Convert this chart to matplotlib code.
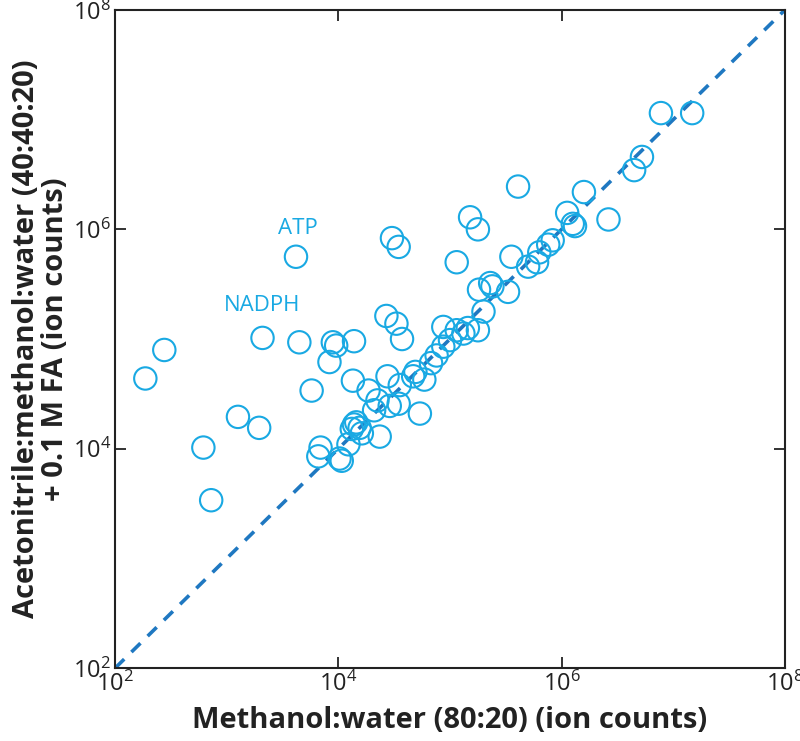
import numpy as np
import matplotlib
matplotlib.use("Agg")
import matplotlib.pyplot as plt

plt.rcParams['font.family'] = ['Open Sans', 'DejaVu Sans']

# log10 de los conteos
log_metanol = [2.27, 2.44, 2.79, 2.86, 3.10, 3.29, 3.32, 3.62, 3.65, 3.76,
               3.92, 3.95, 3.98, 4.14, 4.13, 4.43, 4.52, 4.57, 4.48, 4.54,
               5.06, 5.18, 5.25, 5.61, 5.55, 3.84, 3.82, 4.01, 4.03, 4.09,
               4.14, 4.16, 4.19, 4.12, 4.21, 4.37, 4.27, 4.35, 4.32, 4.44,
               4.46, 4.54, 4.55, 4.67, 4.69, 4.77, 4.73, 4.83, 4.88, 4.94,
               4.94, 5.00, 5.06, 5.12, 5.16, 5.25, 5.30, 5.26, 5.36, 5.38,
               5.52, 5.70, 5.78, 5.80, 5.88, 5.92, 6.05, 6.10, 6.12, 6.42,
               6.20, 6.65, 6.72, 6.89, 7.17]
log_acn = [4.64, 4.90, 4.01, 3.53, 4.29, 4.19, 5.01, 5.75, 4.97, 4.53,
           4.79, 4.97, 4.94, 4.98, 4.62, 5.21, 5.14, 5.00, 5.92, 5.84,
           5.70, 6.11, 6.00, 6.39, 5.75, 4.01, 3.93, 3.91, 3.89, 4.04,
           4.22, 4.24, 4.19, 4.18, 4.14, 4.11, 4.53, 4.44, 4.35, 4.66,
           4.39, 4.41, 4.58, 4.66, 4.70, 4.63, 4.32, 4.78, 4.85, 5.11,
           4.93, 4.99, 5.08, 5.05, 5.10, 5.08, 5.25, 5.45, 5.51, 5.48,
           5.43, 5.66, 5.70, 5.79, 5.86, 5.90, 6.15, 6.05, 6.03, 6.09,
           6.34, 6.54, 6.66, 7.06, 7.06]

etiquetas = ["ATP", "NADPH"]
pos_etiquetas = [(10**3.64, 10**6.01), (10**3.32, 10**5.31)]

x = 10 ** np.array(log_metanol)
y = 10 ** np.array(log_acn)

fuente_ejes = ['Liberation Sans Narrow', 'Open Sans', 'DejaVu Sans']

fig = plt.figure(figsize=(8, 7.41), dpi=100)
ax = fig.add_axes([0.144, 0.0985, 0.837, 0.888])

ax.plot([1e2, 1e8], [1e2, 1e8], ls=(0, (3.5, 2.8)), color='#1f78c1', lw=2.6, zorder=1)
ax.scatter(x, y, s=260, facecolors='none', edgecolors='#19a9e3', linewidths=1.5, zorder=2)

for t, (tx, ty) in zip(etiquetas, pos_etiquetas):
    ax.text(tx, ty, t, color='#19a9e3', fontsize=16, ha='center', va='center')

ax.set_xscale('log')
ax.set_yscale('log')
ax.set_xlim(1e2, 1e8)
ax.set_ylim(1e2, 1e8)
ax.set_xticks([1e2, 1e4, 1e6, 1e8])
ax.set_yticks([1e2, 1e4, 1e6, 1e8])
ax.minorticks_off()
ax.tick_params(direction='in', length=8, width=1.3, top=True, right=True,
               labelsize=17, pad=3, colors='#222222')
for s in ax.spines.values():
    s.set_linewidth(1.5)
    s.set_color('#222222')

ax.set_xlabel("Methanol:water (80:20) (ion counts)", fontsize=21, fontweight='bold',
              color='#222222', labelpad=6, family=fuente_ejes)
ax.set_ylabel("Acetonitrile:methanol:water (40:40:20)\n+ 0.1 M FA (ion counts)",
              fontsize=21, fontweight='bold', color='#222222', labelpad=2,
              linespacing=1.0, family=fuente_ejes)

fig.savefig("out.png", dpi=100)
